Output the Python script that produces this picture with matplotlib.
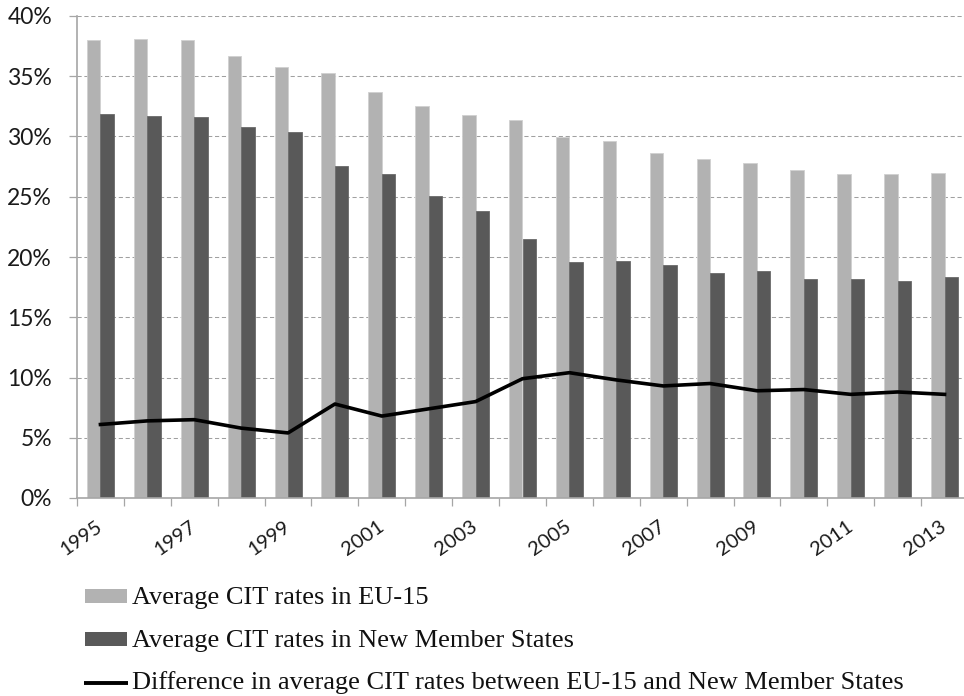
import matplotlib
matplotlib.use("Agg")
import matplotlib.pyplot as plt
import numpy as np
from matplotlib.patches import Rectangle
from matplotlib.lines import Line2D
from matplotlib.ticker import FixedLocator, FuncFormatter

# Average corporate income tax rates (%)
years = list(range(1995, 2014))
eu15 = [38.0, 38.1, 38.0, 36.7, 35.8, 35.3, 33.7, 32.5, 31.8, 31.4,
        30.0, 29.6, 28.6, 28.1, 27.8, 27.2, 26.9, 26.9, 27.0]
nms = [31.9, 31.7, 31.6, 30.8, 30.4, 27.55, 26.9, 25.1, 23.8, 21.5,
       19.6, 19.7, 19.3, 18.65, 18.8, 18.2, 18.2, 18.0, 18.3]
gap = [6.1, 6.4, 6.5, 5.8, 5.4, 7.8, 6.8, 7.4, 8.0, 9.9,
       10.4, 9.8, 9.3, 9.5, 8.9, 9.0, 8.6, 8.8, 8.6]

legend_labels = [
    "Average CIT rates in EU-15",
    "Average CIT rates in New Member States",
    "Difference in average CIT rates between EU-15 and New Member States",
]

light = "#b2b2b2"
dark = "#595959"
axis_gray = "#a6a6a6"

W, H = 964, 696
fig = plt.figure(figsize=(W / 100, H / 100), dpi=100)
ax = fig.add_axes([77 / W, 198 / H, 891 / W, 482 / H])

x = np.arange(len(years))
bw = 0.288
ax.bar(x - bw / 2, np.array(eu15) / 100, width=bw, color=light,
       edgecolor="#d0d0d0", linewidth=0.6, zorder=2)
ax.bar(x + bw / 2, np.array(nms) / 100, width=bw, color=dark,
       edgecolor="#6a6a6a", linewidth=0.6, zorder=2)
ax.plot(x, np.array(gap) / 100, color="black", linewidth=2.6,
        solid_joinstyle="round", zorder=3)

ax.set_xlim(-0.5, len(years) - 0.5)
ax.set_ylim(0, 0.40)

# y axis: percent labels with dashed gridlines
ax.set_yticks(np.arange(0, 0.401, 0.05))
ax.yaxis.set_major_formatter(FuncFormatter(lambda v, _: f"{v * 100:.0f}%"))
ax.yaxis.grid(True, color="#a0a0a0", linewidth=0.75,
              linestyle=(0, (4.0, 2.6)), zorder=0)
ax.set_axisbelow(True)
ax.tick_params(axis="y", length=6, width=0.9, color=axis_gray,
               labelsize=16.5, pad=12, labelcolor="#1a1a1a")

# x axis: tick marks between categories, labels on every other year
ax.xaxis.set_major_locator(FixedLocator(np.arange(-0.5, len(years), 1.0)))
ax.xaxis.set_major_formatter(FuncFormatter(lambda v, _: ""))
label_pos = x[::2]
ax.xaxis.set_minor_locator(FixedLocator(label_pos))
ax.set_xticklabels([str(years[i]) for i in label_pos], minor=True)
ax.tick_params(axis="x", which="major", length=6, width=0.9, color=axis_gray)
ax.tick_params(axis="x", which="minor", length=0, labelsize=14.5, pad=19,
               labelcolor="#1a1a1a")
for lbl in ax.get_xticklabels(minor=True):
    lbl.set_rotation(35)
    lbl.set_rotation_mode("anchor")
    lbl.set_ha("right")
    lbl.set_va("center")

for side in ("top", "right"):
    ax.spines[side].set_visible(False)
for side in ("left", "bottom"):
    ax.spines[side].set_color(axis_gray)
    ax.spines[side].set_linewidth(1.2)

for lbl in ax.get_yticklabels() + ax.get_xticklabels(minor=True):
    lbl.set_fontfamily("Lato")

# Legend below the chart
handle_mid = [596, 639, 683]
baselines = [604, 647, 689]
serif = "Liberation Serif"
for i, label in enumerate(legend_labels):
    ym = (H - handle_mid[i]) / H
    if i < 2:
        fig.add_artist(Rectangle((85 / W, ym - 7 / H), 42 / W, 14 / H,
                                 transform=fig.transFigure,
                                 facecolor=[light, dark][i], edgecolor="none"))
    else:
        fig.add_artist(Line2D([84 / W, 128 / W], [ym, ym],
                              transform=fig.transFigure, color="black",
                              linewidth=2.8, solid_capstyle="butt"))
    fig.text(132 / W, (H - baselines[i]) / H, label, fontfamily=serif,
             fontsize=19, ha="left", va="baseline", color="#111111")

fig.savefig("out.png", dpi=100)
